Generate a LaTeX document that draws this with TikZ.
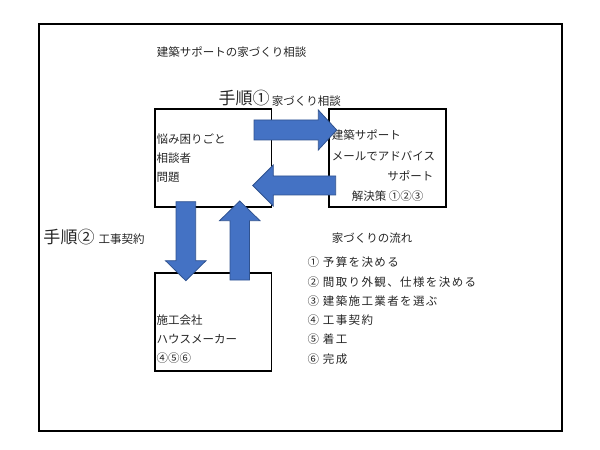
\documentclass[tikz,border=0pt]{standalone}
\usepackage{fontspec}
\setmainfont{Noto Sans CJK JP}
\definecolor{arrowblue}{HTML}{4472C4}
\definecolor{arrowedge}{HTML}{2F528F}
\definecolor{ink}{HTML}{262626}
\begin{document}
\begin{tikzpicture}[x=1bp,y=-1bp,
  txt/.style={inner sep=0pt, anchor=west, text height=0.88em, text depth=0.12em,
              font=\fontsize{11.5bp}{13bp}\selectfont, text=ink},
  listtxt/.style={txt, font=\fontsize{11.5bp}{13bp}\selectfont\addfontfeature{LetterSpace=12}},
  big/.style={txt, font=\fontsize{17bp}{19bp}\selectfont},
  panel/.style={draw=black, line width=1.8bp, inner sep=0pt, anchor=north west,
                minimum width=116.5bp, minimum height=97.7bp},
  blockarrow/.style={fill=arrowblue, draw=arrowedge, line width=0.8bp, line join=miter}]
\useasboundingbox (0,0) rectangle (600,450);
% outer frame
\node (frame) [draw=black, line width=2bp, inner sep=0pt, anchor=north west,
  minimum width=523bp, minimum height=407bp] at (37.5,23) {};
% panels
\node (A) [panel] at (154,108.3) {};
\node (B) [panel] at (328.3,108.3) {};
\node (C) [panel] at (154,272) {};
% title texts
\node (title) [txt] at (156.7,52.7) {建築サポートの家づくり相談};
\node (s1big) [big] at (218.3,100.7) {手順①};
\node (s1) [txt] at (271.7,101.5) {家づくり相談};
\node (s2big) [big] at (43.3,239.3) {手順②};
\node (s2) [txt] at (98.3,239.5) {工事契約};
% panel A
\node (a1) [txt] at (156.5,139.3) {悩み困りごと};
\node (a2) [txt] at (156.5,158.3) {相談者};
\node (a3) [txt] at (156.5,177.3) {問題};
% panel B
\node (b1) [txt] at (331.7,136) {建築サポート};
\node (b2) [txt] at (331.7,156.7) {メールでアドバイス};
\node (b3) [txt, anchor=east] at (433.5,177) {サポート};
\node (b4) [txt] at (351.7,197) {解決策 ①②③};
% panel C
\node (c1) [txt] at (156.5,321) {施工会社};
\node (c2) [txt] at (156.5,340) {ハウスメーカー};
\node (c3) [txt] at (156.5,358.3) {④⑤⑥};
% flow list
\node (lh) [txt] at (331.7,238.3) {家づくりの流れ};
\node (l1) [listtxt] at (307.3,262.7) {① 予算を決める};
\node (l2) [listtxt] at (307.3,282.7) {② 間取り外観、仕様を決める};
\node (l3) [listtxt] at (307.3,301.7) {③ 建築施工業者を選ぶ};
\node (l4) [listtxt] at (307.3,321) {④ 工事契約};
\node (l5) [listtxt] at (307.3,340) {⑤ 着工};
\node (l6) [listtxt] at (307.3,360) {⑥ 完成};
% block arrows
\draw[blockarrow] (254,120) -- (318.3,120) -- (318.3,110) -- (336.7,130)
  -- (318.3,150) -- (318.3,140) -- (254,140) -- cycle;
\draw[blockarrow] (335.7,176) -- (273.3,176) -- (273.3,165) -- (252.7,185.5)
  -- (273.3,206) -- (273.3,195) -- (335.7,195) -- cycle;
\draw[blockarrow] (176,201.7) -- (195.7,201.7) -- (195.7,260.7) -- (206,260.7)
  -- (185.8,280.7) -- (165.5,260.7) -- (176,260.7) -- cycle;
\draw[blockarrow] (230,280) -- (249.5,280) -- (249.5,220.7) -- (260,220.7)
  -- (239.75,201) -- (219.5,220.7) -- (230,220.7) -- cycle;
\end{tikzpicture}
\end{document}
